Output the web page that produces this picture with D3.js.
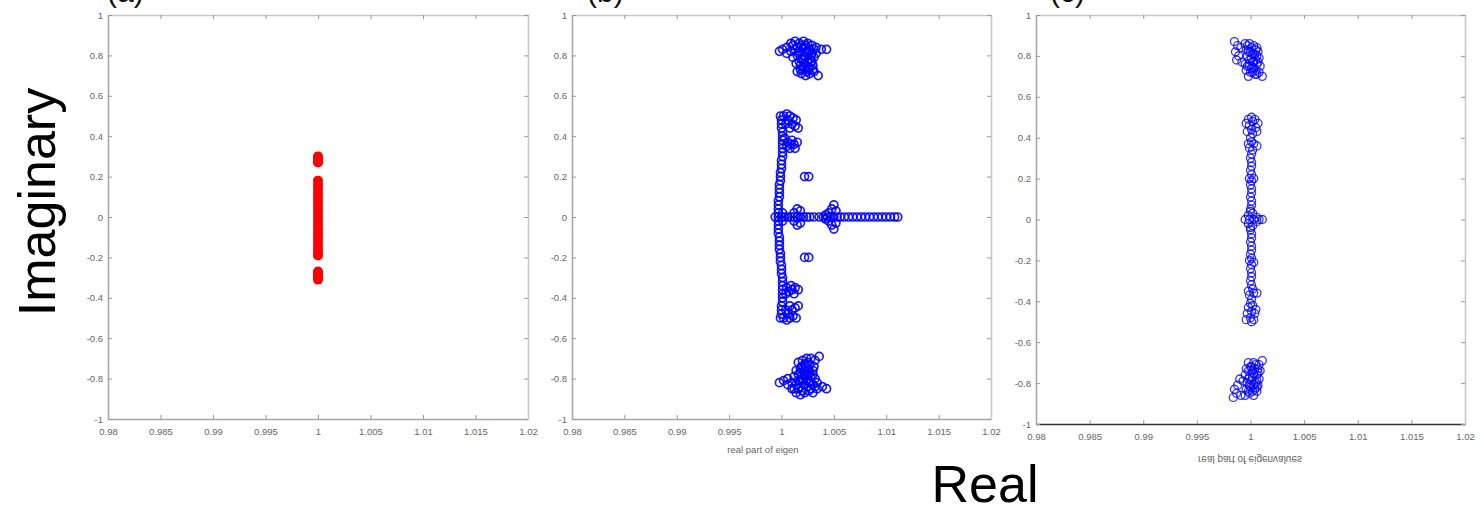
<!DOCTYPE html>
<html>
<head>
<meta charset="utf-8">
<script src="https://cdn.jsdelivr.net/npm/d3@7"></script>
<style>
  body { margin: 0; background: #fff; }
  svg { display: block; font-family: 'Liberation Sans', Arial, sans-serif; }
</style>
</head>
<body>
<svg id="chart" width="1483" height="509"></svg>
<script>
// axis ticks shared by the three panels
const xTicks = [0.98, 0.985, 0.99, 0.995, 1, 1.005, 1.01, 1.015, 1.02];
const xTickLabels = ['0.98', '0.985', '0.99', '0.995', '1', '1.005', '1.01', '1.015', '1.02'];
const yTicks = [-1, -0.8, -0.6, -0.4, -0.2, 0, 0.2, 0.4, 0.6, 0.8, 1];
const yTickLabels = ['-1', '-0.8', '-0.6', '-0.4', '-0.2', '0', '0.2', '0.4', '0.6', '0.8', '1'];

const panelTitles = ['(a)', '(b)', '(c)'];
const xLabels = ['', 'real part of eigen', 'real part of eigenvalues'];

// (a) eigenvalues [real, imag]
const eigA = [
  [1, 0.30], [1, 0.29], [1, 0.28], [1, 0.27],
  [1, 0.18], [1, 0.16], [1, 0.14], [1, 0.12], [1, 0.10], [1, 0.08], [1, 0.06], [1, 0.04], [1, 0.02],
  [1, 0.00], [1, -0.02], [1, -0.04], [1, -0.06], [1, -0.08], [1, -0.10], [1, -0.12], [1, -0.14],
  [1, -0.16], [1, -0.18], [1, -0.19],
  [1, -0.27], [1, -0.28], [1, -0.29], [1, -0.30], [1, -0.31]
];

// (b) eigenvalues
const eigBTop = [
  [0.9998, 0.82], [1.0001, 0.83], [1.0005, 0.84], [1.0009, 0.86], [1.0013, 0.87], [1.0017, 0.86],
  [1.0021, 0.87], [1.0025, 0.86], [1.0029, 0.85], [1.0033, 0.84], [1.0038, 0.83], [1.0043, 0.83],
  [1.0009, 0.82], [1.0013, 0.83], [1.0017, 0.82], [1.0021, 0.84], [1.0025, 0.82], [1.0029, 0.81],
  [1.0033, 0.81], [1.0011, 0.79], [1.0015, 0.80], [1.0019, 0.78], [1.0023, 0.79], [1.0027, 0.78],
  [1.0031, 0.79], [1.0014, 0.76], [1.0018, 0.75], [1.0022, 0.76], [1.0026, 0.74], [1.0030, 0.75],
  [1.0015, 0.72], [1.0019, 0.71], [1.0023, 0.70], [1.0027, 0.71], [1.0031, 0.72], [1.0035, 0.70],
  [1.0020, 0.73], [1.0028, 0.77], [1.0005, 0.81],
  [1.0011, 0.85], [1.0015, 0.84], [1.0019, 0.85], [1.0023, 0.85], [1.0027, 0.83], [1.0031, 0.83],
  [1.0016, 0.81], [1.0020, 0.80], [1.0024, 0.81], [1.0028, 0.80], [1.0017, 0.77], [1.0021, 0.78],
  [1.0025, 0.77], [1.0029, 0.77], [1.0018, 0.73], [1.0022, 0.74], [1.0026, 0.73], [1.0030, 0.73],
  [1.0024, 0.72]
];
const eigBBottom = [
  [0.9998, -0.82], [1.0002, -0.81], [1.0006, -0.83], [1.0010, -0.85], [1.0014, -0.87], [1.0018, -0.88],
  [1.0022, -0.87], [1.0026, -0.86], [1.0030, -0.87], [1.0034, -0.85], [1.0039, -0.84], [1.0043, -0.85],
  [1.0010, -0.82], [1.0014, -0.83], [1.0018, -0.81], [1.0022, -0.83], [1.0026, -0.82], [1.0030, -0.83],
  [1.0034, -0.82], [1.0012, -0.79], [1.0016, -0.78], [1.0020, -0.80], [1.0024, -0.78], [1.0028, -0.79],
  [1.0032, -0.80], [1.0014, -0.76], [1.0018, -0.75], [1.0022, -0.76], [1.0026, -0.75], [1.0030, -0.76],
  [1.0016, -0.72], [1.0020, -0.71], [1.0024, -0.70], [1.0028, -0.70], [1.0032, -0.71], [1.0036, -0.69],
  [1.0022, -0.73], [1.0027, -0.77], [1.0006, -0.80],
  [1.0012, -0.85], [1.0016, -0.85], [1.0020, -0.86], [1.0024, -0.84], [1.0028, -0.85], [1.0032, -0.84],
  [1.0016, -0.81], [1.0020, -0.82], [1.0024, -0.81], [1.0028, -0.82], [1.0018, -0.77], [1.0022, -0.78],
  [1.0026, -0.78], [1.0030, -0.78], [1.0019, -0.74], [1.0023, -0.74], [1.0027, -0.73], [1.0031, -0.74],
  [1.0025, -0.72]
];
const eigBArc = [
  [0.9997, 0.02], [0.9997, 0.04], [0.9997, 0.06], [0.9997, 0.08], [0.9998, 0.10], [0.9998, 0.12],
  [0.9998, 0.14], [0.9998, 0.16], [0.9999, 0.18], [0.9999, 0.20], [0.9999, 0.22], [1.0000, 0.24],
  [1.0000, 0.26], [1.0000, 0.28], [1.0001, 0.30], [1.0001, 0.32], [1.0001, 0.34], [1.0001, 0.36],
  [1.0001, 0.38], [1.0001, 0.40], [1.0001, 0.42], [1.0000, 0.44], [1.0000, 0.46], [1.0000, 0.48],
  [0.9999, 0.50],
  [0.9997, -0.02], [0.9997, -0.04], [0.9997, -0.06], [0.9997, -0.08], [0.9998, -0.10], [0.9998, -0.12],
  [0.9998, -0.14], [0.9998, -0.16], [0.9999, -0.18], [0.9999, -0.20], [0.9999, -0.22], [1.0000, -0.24],
  [1.0000, -0.26], [1.0000, -0.28], [1.0001, -0.30], [1.0001, -0.32], [1.0001, -0.34], [1.0001, -0.36],
  [1.0001, -0.38], [1.0001, -0.40], [1.0001, -0.42], [1.0000, -0.44], [1.0000, -0.46], [1.0000, -0.48],
  [0.9999, -0.50]
];
const eigBSide = [
  [1.0002, 0.50], [1.0005, 0.51], [1.0008, 0.50], [1.0011, 0.49], [1.0014, 0.48], [1.0006, 0.48],
  [1.0010, 0.46], [1.0013, 0.45], [1.0016, 0.44], [1.0004, 0.46], [1.0008, 0.44],
  [1.0003, 0.39], [1.0006, 0.37], [1.0009, 0.36], [1.0012, 0.36], [1.0015, 0.37], [1.0010, 0.38],
  [1.0005, 0.35], [1.0008, 0.34], [1.0013, 0.34],
  [1.0022, 0.20], [1.0026, 0.20],
  [1.0002, -0.50], [1.0005, -0.51], [1.0008, -0.50], [1.0011, -0.49], [1.0014, -0.50], [1.0006, -0.48],
  [1.0010, -0.46], [1.0013, -0.45], [1.0016, -0.44], [1.0004, -0.46], [1.0008, -0.44],
  [1.0004, -0.38], [1.0007, -0.37], [1.0010, -0.36], [1.0013, -0.35], [1.0016, -0.36], [1.0009, -0.34],
  [1.0005, -0.35], [1.0012, -0.38],
  [1.0022, -0.20], [1.0026, -0.20]
];
const eigBReal = [
  [0.9994, 0], [0.9997, 0], [1.0000, 0], [1.0003, 0], [1.0006, 0], [1.0009, 0], [1.0012, 0],
  [1.0015, 0], [1.0018, 0], [1.0021, 0], [1.0024, 0], [1.0027, 0], [1.0031, 0], [1.0036, 0],
  [1.0040, 0], [1.0044, 0], [1.0047, 0], [1.0050, 0], [1.0053, 0], [1.0056, 0], [1.0060, 0],
  [1.0064, 0], [1.0068, 0], [1.0072, 0], [1.0076, 0], [1.0080, 0], [1.0084, 0], [1.0088, 0],
  [1.0092, 0], [1.0096, 0], [1.0100, 0], [1.0104, 0], [1.0108, 0], [1.0111, 0],
  [1.0001, 0.02], [1.0001, -0.02],
  [1.0012, 0.02], [1.0015, 0.04], [1.0018, 0.03], [1.0012, -0.02], [1.0015, -0.04], [1.0018, -0.03],
  [1.0042, 0.01], [1.0045, 0.02], [1.0048, 0.04], [1.0050, 0.06], [1.0052, 0.03],
  [1.0042, -0.01], [1.0045, -0.02], [1.0048, -0.04], [1.0050, -0.06], [1.0052, -0.03]
];

// (c) eigenvalues
const eigCTop = [
  [0.9985, 0.87], [0.9988, 0.85], [0.9986, 0.82], [0.9989, 0.80], [0.9987, 0.78], [0.9991, 0.84],
  [0.9992, 0.77], [0.9995, 0.86], [0.9999, 0.86], [1.0003, 0.85], [1.0006, 0.84], [0.9996, 0.83],
  [1.0000, 0.82], [1.0004, 0.81], [1.0007, 0.82], [0.9997, 0.80], [1.0001, 0.79], [1.0005, 0.78],
  [1.0008, 0.79], [0.9995, 0.76], [0.9999, 0.75], [1.0003, 0.74], [1.0006, 0.76], [0.9996, 0.73],
  [1.0000, 0.72], [1.0004, 0.71], [1.0008, 0.72], [1.0011, 0.70], [0.9998, 0.70], [1.0002, 0.77],
  [1.0009, 0.75],
  [0.9997, 0.85], [1.0001, 0.84], [1.0005, 0.83], [0.9998, 0.82], [1.0002, 0.81], [1.0006, 0.80],
  [0.9999, 0.78], [1.0003, 0.77], [1.0007, 0.77], [0.9997, 0.75], [1.0001, 0.74], [1.0005, 0.73],
  [1.0002, 0.72], [1.0006, 0.71]
];
const eigCBottom = [
  [0.9984, -0.87], [0.9987, -0.85], [0.9985, -0.83], [0.9988, -0.81], [0.9990, -0.78], [0.9991, -0.86],
  [0.9993, -0.79], [0.9995, -0.86], [0.9999, -0.85], [1.0003, -0.86], [1.0006, -0.84], [0.9996, -0.83],
  [1.0000, -0.82], [1.0004, -0.83], [1.0007, -0.81], [0.9997, -0.80], [1.0001, -0.79], [1.0005, -0.80],
  [1.0008, -0.78], [0.9995, -0.76], [0.9999, -0.77], [1.0003, -0.75], [1.0006, -0.76], [0.9996, -0.73],
  [1.0000, -0.72], [1.0004, -0.73], [1.0008, -0.71], [1.0011, -0.69], [0.9998, -0.70], [1.0002, -0.74],
  [1.0009, -0.74],
  [0.9998, -0.84], [1.0002, -0.84], [1.0006, -0.82], [0.9999, -0.81], [1.0003, -0.81], [1.0006, -0.79],
  [0.9998, -0.78], [1.0002, -0.77], [1.0007, -0.75], [0.9998, -0.74], [1.0001, -0.72], [1.0005, -0.71],
  [1.0003, -0.70], [1.0007, -0.73]
];
const eigCLine = [
  [1.0001, 0.50], [0.9998, 0.49], [1.0004, 0.49], [0.9996, 0.47], [1.0002, 0.48], [1.0007, 0.47],
  [0.9999, 0.46], [1.0005, 0.45], [1.0001, 0.44], [0.9997, 0.43], [1.0006, 0.43], [1.0002, 0.42],
  [1.0000, 0.40], [1.0001, 0.38], [0.9998, 0.37], [1.0003, 0.37], [1.0006, 0.36], [0.9999, 0.35],
  [1.0002, 0.34], [1.0001, 0.32], [1.0000, 0.30], [1.0001, 0.28], [1.0001, 0.26], [1.0000, 0.24],
  [1.0001, 0.22], [0.9999, 0.20], [1.0003, 0.20], [1.0001, 0.19], [1.0000, 0.17], [1.0001, 0.15],
  [1.0001, 0.13], [1.0000, 0.11], [1.0001, 0.09], [1.0001, 0.07], [1.0000, 0.05], [1.0002, 0.03],
  [0.9998, 0.02], [1.0000, 0.04], [1.0006, 0.01], [0.9995, 0.00], [0.9999, 0.00], [1.0003, 0.00],
  [1.0008, 0.00], [1.0011, 0.00], [1.0006, -0.01], [0.9998, -0.02], [1.0000, -0.04], [1.0002, -0.03],
  [1.0000, -0.05], [1.0001, -0.07], [1.0001, -0.09], [1.0000, -0.11], [1.0001, -0.13], [1.0001, -0.15],
  [1.0000, -0.17], [1.0001, -0.19], [0.9999, -0.20], [1.0003, -0.21], [1.0001, -0.22], [1.0000, -0.24],
  [1.0001, -0.26], [1.0001, -0.28], [1.0000, -0.30], [1.0001, -0.32], [1.0002, -0.34], [0.9998, -0.35],
  [1.0003, -0.36], [1.0006, -0.36], [0.9999, -0.37], [1.0001, -0.39], [1.0000, -0.41], [1.0002, -0.42],
  [0.9998, -0.43], [1.0005, -0.44], [1.0001, -0.45], [0.9997, -0.46], [1.0004, -0.46], [1.0000, -0.48],
  [0.9996, -0.49], [1.0003, -0.49], [1.0001, -0.50]
];

const svg = d3.select('#chart');

// panel frames in pixels
const frames = [
  { left: 108, right: 528, top: 15, bottom: 419, bottomColor: '#a8a8a8', titleX: 107 },
  { left: 572, right: 991, top: 15, bottom: 419, bottomColor: '#a8a8a8', titleX: 587 },
  { left: 1036, right: 1465, top: 15, bottom: 424, bottomColor: '#333', titleX: 1050 }
];

function drawPanel(i, series) {
  const f = frames[i];
  const x = d3.scaleLinear().domain([0.98, 1.02]).range([f.left, f.right]);
  const y = d3.scaleLinear().domain([-1, 1]).range([f.bottom, f.top]);
  const g = svg.append('g');

  const styleAxis = (sel, color) => {
    sel.select('.domain').attr('stroke', color).attr('stroke-width', 1.6);
    sel.selectAll('.tick line').attr('stroke', '#999');
    sel.selectAll('.tick text').attr('fill', '#666').style('font-size', '9.5px');
  };

  g.append('g')
    .attr('transform', `translate(0,${f.bottom})`)
    .call(d3.axisBottom(x).tickValues(xTicks).tickFormat((d, k) => xTickLabels[k]).tickSizeInner(-4).tickSizeOuter(0).tickPadding(9))
    .call(styleAxis, f.bottomColor);
  g.append('g')
    .attr('transform', `translate(0,${f.top})`)
    .call(d3.axisTop(x).tickValues(xTicks).tickFormat('').tickSizeInner(-4).tickSizeOuter(0))
    .call(styleAxis, '#c8c8c8');
  g.append('g')
    .attr('transform', `translate(${f.left},0)`)
    .call(d3.axisLeft(y).tickValues(yTicks).tickFormat((d, k) => yTickLabels[k]).tickSizeInner(-4).tickSizeOuter(0).tickPadding(5))
    .call(styleAxis, '#a8a8a8');
  g.append('g')
    .attr('transform', `translate(${f.right},0)`)
    .call(d3.axisRight(y).tickValues(yTicks).tickFormat('').tickSizeInner(-4).tickSizeOuter(0))
    .call(styleAxis, '#c8c8c8');

  series.forEach((s) => {
    g.append('g')
      .selectAll('circle')
      .data(s.points)
      .join('circle')
      .attr('cx', (d) => x(d[0]))
      .attr('cy', (d) => y(d[1]))
      .attr('r', s.r)
      .attr('fill', s.fill)
      .attr('stroke', s.stroke)
      .attr('stroke-width', s.sw)
      .attr('stroke-opacity', s.op);
  });

  // panel title, cut off by the top of the picture as in the original figure
  svg.append('text')
    .attr('x', f.titleX)
    .attr('y', 2)
    .attr('font-size', '30px')
    .attr('fill', '#111')
    .text(panelTitles[i]);

  if (xLabels[i]) {
    const cx = i === 2 ? 1250 : 763;
    const cy = i === 2 ? 456 : 450;
    svg.append('text')
      .attr('transform', i === 2 ? `translate(${cx},${cy}) scale(1,-1)` : `translate(${cx},${cy})`)
      .attr('text-anchor', 'middle')
      .attr('dy', i === 2 ? '0em' : '0.35em')
      .attr('font-size', i === 2 ? '10px' : '9.5px')
      .attr('fill', '#666')
      .text(xLabels[i]);
  }
}

const red = { r: 5, fill: '#ff0000', stroke: 'none', sw: 0, op: 1 };
const blueB = { r: 4, fill: 'none', stroke: '#0000ff', sw: 1.7, op: 0.9 };
const blueC = { r: 4, fill: 'none', stroke: '#0000ff', sw: 1.3, op: 0.8 };

drawPanel(0, [{ ...red, points: eigA }]);
drawPanel(1, [eigBTop, eigBBottom, eigBArc, eigBSide, eigBReal].map((p) => ({ ...blueB, points: p })));
drawPanel(2, [eigCTop, eigCBottom, eigCLine].map((p) => ({ ...blueC, points: p })));

// overall axis titles
svg.append('text')
  .attr('transform', 'translate(55,202) rotate(-90)')
  .attr('text-anchor', 'middle')
  .attr('font-size', '52px')
  .attr('fill', '#000')
  .text('Imaginary');

svg.append('text')
  .attr('x', 985)
  .attr('y', 502)
  .attr('text-anchor', 'middle')
  .attr('font-size', '52px')
  .attr('fill', '#000')
  .text('Real');
</script>
</body>
</html>
